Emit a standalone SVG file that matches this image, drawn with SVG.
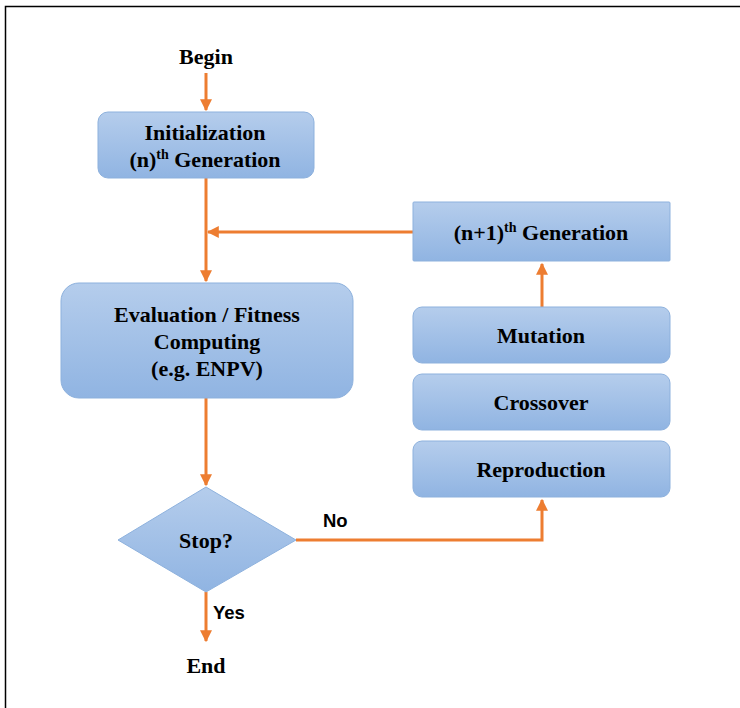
<svg xmlns="http://www.w3.org/2000/svg" width="740" height="708" viewBox="0 0 740 708">
<defs>
<linearGradient id="g" x1="0" y1="0" x2="0" y2="1">
<stop offset="0" stop-color="#b5cdec"/>
<stop offset="1" stop-color="#90b4e2"/>
</linearGradient>
<marker id="ah" viewBox="0 0 10 10" refX="9" refY="5" markerWidth="4" markerHeight="4" orient="auto" markerUnits="strokeWidth">
<path d="M0,0 L10,5 L0,10 z" fill="#ed7d31"/>
</marker>
<style>
.box{fill:url(#g);stroke:#8db1dd;stroke-width:1}
.t{font-family:"Liberation Serif","Times New Roman",serif;font-weight:bold;font-size:22px;fill:#000;text-anchor:middle}
.s{font-family:"Liberation Sans",Arial,sans-serif;font-weight:bold;font-size:18.5px;fill:#000}
.c{fill:none;stroke:#ed7d31;stroke-width:3}
</style>
</defs>
<rect width="740" height="708" fill="#fff"/>
<path d="M5.5,708 V6.5 H740" fill="none" stroke="#000" stroke-width="1.5"/>
<g id="connectors">
<path class="c" d="M206,73 V110" marker-end="url(#ah)"/>
<path class="c" d="M206,178 V281" marker-end="url(#ah)"/>
<path class="c" d="M413,232 H208" marker-end="url(#ah)"/>
<path class="c" d="M542,307 V264" marker-end="url(#ah)"/>
<path class="c" d="M206,398 V485" marker-end="url(#ah)"/>
<path class="c" d="M296,540 H542 V500" marker-end="url(#ah)"/>
<path class="c" d="M206,592 V641" marker-end="url(#ah)"/>
<text class="s" x="323" y="527">No</text>
<text class="s" x="213" y="619">Yes</text>
</g>
<g id="begin"><text class="t" x="206" y="64">Begin</text></g>
<g id="init">
<rect class="box" x="98" y="112" width="216" height="66" rx="10"/>
<text class="t" x="205" y="140">Initialization</text>
<text class="t" x="205" y="167">(n)<tspan font-size="14" dy="-8">th</tspan><tspan dy="8"> Generation</tspan></text>
</g>
<g id="nextgen">
<rect class="box" x="413" y="202" width="257" height="59" rx="1"/>
<text class="t" x="541" y="240">(n+1)<tspan font-size="14" dy="-8">th</tspan><tspan dy="8"> Generation</tspan></text>
</g>
<g id="mutation">
<rect class="box" x="413" y="307" width="257" height="56" rx="9"/>
<text class="t" x="541" y="343">Mutation</text>
</g>
<g id="crossover">
<rect class="box" x="413" y="374" width="257" height="56" rx="9"/>
<text class="t" x="541" y="410">Crossover</text>
</g>
<g id="reproduction">
<rect class="box" x="413" y="441" width="257" height="56" rx="9"/>
<text class="t" x="541" y="477">Reproduction</text>
</g>
<g id="evaluation">
<rect class="box" x="61" y="283" width="292" height="115" rx="18"/>
<text class="t" x="207" y="322">Evaluation / Fitness</text>
<text class="t" x="207" y="349">Computing</text>
<text class="t" x="207" y="376">(e.g. ENPV)</text>
</g>
<g id="stop">
<polygon class="box" points="206,487 296,540 206,592 118,540"/>
<text class="t" x="206" y="548">Stop?</text>
</g>
<g id="end"><text class="t" x="206" y="673">End</text></g>
</svg>
